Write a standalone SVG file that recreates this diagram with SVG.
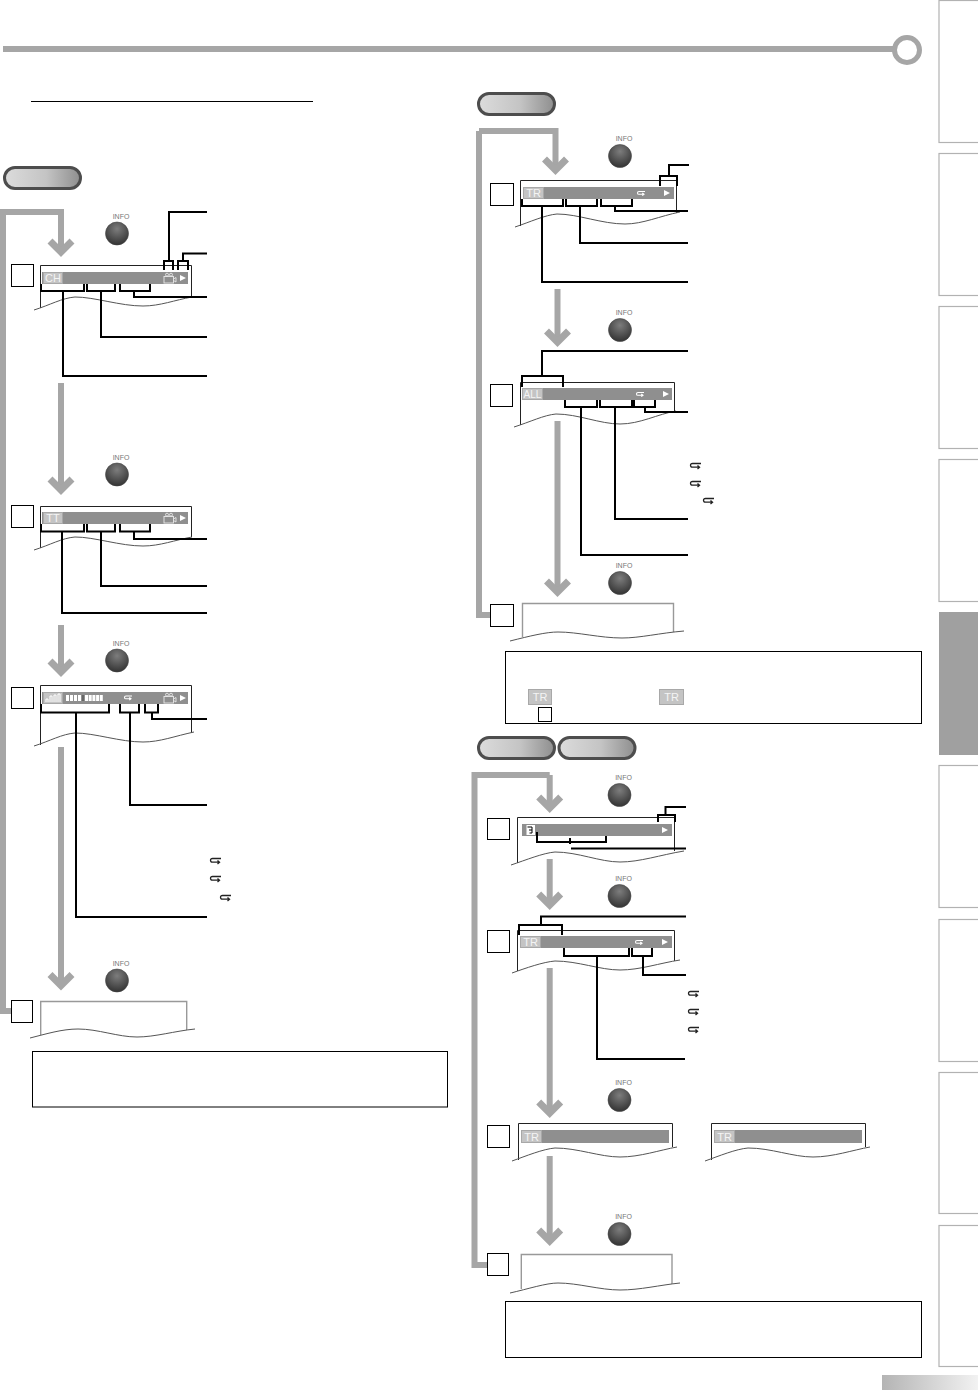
<svg xmlns="http://www.w3.org/2000/svg" width="978" height="1390" viewBox="0 0 978 1390">
<style>
.g{fill:none;stroke:#a6a6a6;stroke-width:6}
.h{fill:none;stroke:#a6a6a6;stroke-width:7}
.c{fill:none;stroke:#000;stroke-width:2}
.s{fill:none;stroke:#222;stroke-width:1}
.e{fill:none;stroke:#999;stroke-width:1.400}
.w{fill:none;stroke:#555;stroke-width:1}
.n{fill:#fff;stroke:#000;stroke-width:1}
.b{fill:#8f8f8f}
.t{fill:#fff;stroke:#b2b2b2;stroke-width:1.2}
.l{fill:#c4c4c4;stroke:#a8a8a8;stroke-width:1}
.lt{font-family:"Liberation Sans",Arial,sans-serif;font-size:11px;fill:#f4f4f4;text-anchor:middle}
.i{font-family:"Liberation Sans",Arial,sans-serif;font-size:7px;fill:#777;text-anchor:middle}
.p{stroke:#4d4d4d;stroke-width:3;fill:url(#pg)}
</style>
<defs>
<linearGradient id="pg" x1="0" x2="1" y1="0" y2="0"><stop offset="0" stop-color="#dcdcdc"/><stop offset=".55" stop-color="#c4c4c4"/><stop offset="1" stop-color="#8e8e8e"/></linearGradient>
<radialGradient id="bg" cx=".5" cy=".3" r=".75"><stop offset="0" stop-color="#7d7d7d"/><stop offset="1" stop-color="#2e2e2e"/></radialGradient>
<linearGradient id="cg" x1="0" x2="1" y1="0" y2="0"><stop offset="0" stop-color="#b4b4b4"/><stop offset="1" stop-color="#f2f2f2"/></linearGradient>
<g id="btn"><circle r="11.500" fill="url(#bg)" stroke="#444" stroke-width=".6"/><text class="i" x="4" y="-15">INFO</text></g>
<path id="chev" class="h" d="M-11 -16L0 -5L11 -16"/>
<path id="ret" d="M11 .5H2.500Q.5 .5 .5 2.300Q.5 4.200 2.500 4.200H9M7.500 2.600L9.500 4.200L7.500 5.900" fill="none" stroke="#222" stroke-width="1.300"/>
<path id="retw" d="M8 .5H2Q.5 .5 .5 1.900Q.5 3.300 2 3.300H6.500M5.300 2L7 3.300L5.300 4.600" fill="none" stroke="#fff" stroke-width="1.100"/>
<path id="play" d="M0 0L6 3L0 6Z" fill="#fff"/>
<g id="cam" fill="none" stroke="#e8e8e8" stroke-width=".9"><rect x="0" y="3.500" width="9.500" height="6.500"/><circle cx="3" cy="1.700" r="1.500"/><circle cx="7" cy="1.700" r="1.500"/><path d="M9.500 6L12 4.500V9L9.500 7.500"/></g>
</defs>
<rect width="978" height="1390" fill="#fff"/>
<g id="header"><path d="M3 49H895" stroke="#a6a6a6" stroke-width="6" fill="none"/><circle cx="907" cy="50" r="12.500" fill="#fff" stroke="#a6a6a6" stroke-width="5"/></g>
<g id="tabs">
<rect class="t" x="939" y="0.500" width="45" height="142"/>
<rect class="t" x="939" y="153.500" width="45" height="142"/>
<rect class="t" x="939" y="306.500" width="45" height="142"/>
<rect class="t" x="939" y="459.500" width="45" height="142"/>
<rect x="939" y="612" width="45" height="143" fill="#a0a0a0"/>
<rect class="t" x="939" y="765.500" width="45" height="142"/>
<rect class="t" x="939" y="919.500" width="45" height="142"/>
<rect class="t" x="939" y="1072.500" width="45" height="141"/>
<rect class="t" x="939" y="1225.500" width="45" height="141"/>
<rect x="882" y="1375" width="96" height="15" fill="url(#cg)"/>
</g>
<path id="heading-rule" d="M31 101.500H313" stroke="#000" stroke-width="1"/>
<g id="flows">
<path class="g" d="M0 212H61V251M3 212V1011H11"/><use href="#chev" x="61" y="257"/>
<path class="g" d="M61 383V489"/><use href="#chev" x="61" y="495"/>
<path class="g" d="M61 625V671"/><use href="#chev" x="61" y="677"/>
<path class="g" d="M61 747V984"/><use href="#chev" x="61" y="990.500"/>
<path class="g" d="M479 131H555.500V169M479 131V615H491"/><use href="#chev" x="555.500" y="175"/>
<path class="g" d="M557.500 289V341"/><use href="#chev" x="557.500" y="347"/>
<path class="g" d="M557.500 421V591"/><use href="#chev" x="557.500" y="597"/>
<path class="g" d="M549.700 775H474.500V1265H487M549.700 775V807"/><use href="#chev" x="549.700" y="813"/>
<path class="g" d="M549.700 859V904"/><use href="#chev" x="549.700" y="910"/>
<path class="g" d="M549.700 968V1112"/><use href="#chev" x="549.700" y="1118"/>
<path class="g" d="M549.700 1156V1240"/><use href="#chev" x="549.700" y="1246"/>
</g>
<g id="pills">
<rect class="p" x="4.500" y="167.500" width="76" height="21" rx="10.500"/>
<rect class="p" x="478.500" y="93.500" width="76" height="21" rx="10.500"/>
<rect class="p" x="478.500" y="737.500" width="76" height="21" rx="10.500"/>
<rect class="p" x="559" y="737.500" width="76" height="21" rx="10.500"/>
</g>
<g id="buttons">
<use href="#btn" x="117" y="233.500"/><use href="#btn" x="117" y="474.500"/><use href="#btn" x="117" y="660.500"/><use href="#btn" x="117" y="980.500"/>
<use href="#btn" x="620" y="156"/><use href="#btn" x="620" y="330"/><use href="#btn" x="620" y="583"/>
<use href="#btn" x="619.500" y="795"/><use href="#btn" x="619.500" y="896"/><use href="#btn" x="619.500" y="1100"/><use href="#btn" x="619.500" y="1234"/>
</g>
<g id="step-boxes">
<rect class="n" x="11.500" y="264.500" width="22" height="22"/>
<rect class="n" x="11.500" y="505.500" width="22" height="22"/>
<rect class="n" x="11.500" y="687.500" width="22" height="21"/>
<rect class="n" x="11.500" y="1000.500" width="21" height="22"/>
<rect class="n" x="490.500" y="183.500" width="23" height="22"/>
<rect class="n" x="490.500" y="384.500" width="22" height="22"/>
<rect class="n" x="490.500" y="604.500" width="23" height="22"/>
<rect class="n" x="487.500" y="818.500" width="22" height="21"/>
<rect class="n" x="487.500" y="930.500" width="22" height="22"/>
<rect class="n" x="487.500" y="1125.500" width="22" height="22"/>
<rect class="n" x="487.500" y="1253.500" width="21" height="22"/>
</g>
<g id="screen-1">
<path class="s" d="M40.500 308V265.500H191.500V297"/><path class="w" d="M34 310C50 305 62 298 75 297C95 297 120 306 143 306C160 306 175 300 192 297"/>
<rect class="b" x="42" y="272" width="146" height="12"/><rect class="l" x="43.500" y="272.500" width="19" height="11"/><text class="lt" x="53" y="282">CH</text>
<use href="#cam" x="164" y="273"/><use href="#play" x="180" y="275"/>
</g>
<g id="screen-2">
<path class="s" d="M40.500 548V506.500H191.500V537"/><path class="w" d="M34 550C50 545 62 538 75 537C95 537 120 546 143 546C160 546 175 540 192 537"/>
<rect class="b" x="42" y="512" width="146" height="12"/><rect class="l" x="43.500" y="512.500" width="19" height="11"/><text class="lt" x="53" y="522">TT</text>
<use href="#cam" x="164" y="513"/><use href="#play" x="180" y="515"/>
</g>
<g id="screen-3">
<path class="s" d="M40.500 745V685.500H191.500V733"/><path class="w" d="M34 746C50 741 62 734 75 733C95 733 120 742 143 742C160 742 175 736 194 732"/>
<rect class="b" x="42" y="692" width="146" height="12"/><rect class="l" x="43.500" y="692.500" width="19" height="11"/>
<path d="M46 702V699H48V702M50 702V696H52V702M54 702V695H56V702M58 702V694H60V702" fill="none" stroke="#fff" stroke-width="1"/>
<path d="M66 698H82" stroke="#fff" stroke-width="6" stroke-dasharray="3 1" fill="none"/><path d="M82 695h2v6h-2z" fill="#666"/><path d="M85 698H103" stroke="#fff" stroke-width="6" stroke-dasharray="3 .7" fill="none"/>
<use href="#retw" x="124" y="695.500"/>
<use href="#cam" x="164" y="693"/><use href="#play" x="180" y="695"/>
</g>
<g id="screen-4">
<path class="e" d="M40.700 1035V1001.500H186.700V1030"/><path class="w" d="M30 1038C46 1034 62 1029 78 1029C98 1029 118 1037 137 1037C155 1037 175 1031 195 1029"/>
</g>
<g id="screen-5">
<path class="s" d="M520.500 226V180.500H676.500V213"/><path class="w" d="M515 227C530 222 545 215 557 214C578 214 602 224 625 224C643 224 660 216 680 212"/>
<rect class="b" x="523" y="187" width="151" height="12"/><rect class="l" x="523.500" y="187.500" width="20" height="11"/><text class="lt" x="533.500" y="197">TR</text>
<use href="#retw" x="637" y="191"/><use href="#play" x="664" y="190"/>
</g>
<g id="screen-6">
<path class="s" d="M520.500 425V382.500H674.500V411"/><path class="w" d="M514 427C530 422 544 415 556 414C578 414 600 424 620 424C640 424 658 414 676 411"/>
<rect class="b" x="522" y="388" width="150" height="12"/><rect class="l" x="522.500" y="388.500" width="20" height="11"/><text class="lt" x="532.500" y="398" style="font-size:10px">ALL</text>
<use href="#retw" x="636" y="392"/><use href="#play" x="663" y="391"/>
</g>
<g id="screen-7">
<path class="e" d="M522.500 637V603.500H673.500V632"/><path class="w" d="M510 641C530 636 546 632 558 632C578 632 600 638 622 638C640 638 660 633 684 631"/>
</g>
<g id="screen-8">
<path class="s" d="M517.500 863V817.500H674.500V851"/><path class="w" d="M511 865C526 860 543 853 555 852C578 852 600 862 620 862C640 862 660 855 684 851"/>
<rect class="b" x="522" y="824" width="150" height="12"/><rect x="526.500" y="825" width="8.500" height="10" fill="#fff"/><path d="M527.500 827H532V833H529.500M529 830H532" stroke="#000" fill="none"/>
<use href="#play" x="662" y="827"/>
</g>
<g id="screen-9">
<path class="s" d="M517.500 971V930.500H674.500V961"/><path class="w" d="M512 973C526 968 543 962 555 961C578 961 600 970 620 970C640 970 660 963 680 960"/>
<rect class="b" x="520" y="936" width="152" height="12"/><rect class="l" x="520.500" y="936.500" width="20" height="11"/><text class="lt" x="530.500" y="946">TR</text>
<use href="#retw" x="635" y="940"/><use href="#play" x="662" y="939"/>
</g>
<g id="screen-10">
<path class="s" d="M518.500 1160V1123.500H672.500V1147"/><path class="w" d="M512 1161C526 1156 543 1149 555 1148C578 1148 600 1157 620 1157C640 1157 660 1150 677 1147"/>
<rect class="b" x="521" y="1130" width="148" height="13"/><rect class="l" x="521.500" y="1130.500" width="20" height="12"/><text class="lt" x="531.500" y="1141">TR</text>
</g>
<g id="screen-11">
<path class="s" d="M711.500 1160V1123.500H865.500V1147"/><path class="w" d="M705 1161C719 1156 736 1149 748 1148C771 1148 793 1157 813 1157C833 1157 853 1150 870 1147"/>
<rect class="b" x="714" y="1130" width="148" height="13"/><rect class="l" x="714.500" y="1130.500" width="20" height="12"/><text class="lt" x="724.500" y="1141">TR</text>
</g>
<g id="screen-12">
<path class="e" d="M521.300 1289V1254.500H672V1284"/><path class="w" d="M510 1293C528 1289 546 1283 558 1283C578 1283 600 1290 620 1290C640 1290 660 1285 680 1283"/>
</g>
<g id="connectors">
<path class="c" d="M164 270V261H173V270M178 270V261H188V270M169 261V212H207M183 261V253.500H207"/>
<path class="c" d="M41 284V291H84V284M87 284V291H115V284M120 284V291H150V284M134 291V297H207M101 291V337H207M63 291V376H207"/>
<path class="c" d="M41 524V531.500H84V524M87 524V531.500H115V524M120 524V531.500H150V524M134 532V539H207M101 532V586H207M62 532V613H207"/>
<path class="c" d="M41 704V712.500H109V704M120 704V712.500H139V704M145 704V712.500H158V704M152 713V719H207M130 713V805H207M76 713V917H207"/>
<path class="c" d="M660 186V176H677V186M669 176V165H689"/>
<path class="c" d="M522 199V206H563V199M566 199V206H597V199M601 199V206H632V199M615 206V211H688M580 206V243H688M542 206V282H688"/>
<path class="c" d="M522 387V376H563V387M542 376V351H688"/>
<path class="c" d="M565 400V407H597V400M600 400V407H632V400M634 400V407H655V400M645 407V412H688M615 407V519H688M581 407V555H688"/>
<path class="c" d="M658 822V815H675V822M665.500 815V807H686"/>
<path class="c" d="M537 832V842H606V836M570 838V844M571 848.500H686"/>
<path class="c" d="M519 935V925H562V935M541 925V916.500H686"/>
<path class="c" d="M564 948V956H629V948M632 948V956H652V948M643 956V975H686M597 956V1059H685"/>
</g>
<g id="return-icons">
<use href="#ret" x="210" y="858"/><use href="#ret" x="210" y="876"/><use href="#ret" x="220" y="895"/>
<use href="#ret" x="690" y="463"/><use href="#ret" x="690" y="481"/><use href="#ret" x="703" y="498"/>
<use href="#ret" x="688" y="991"/><use href="#ret" x="688" y="1009"/><use href="#ret" x="688" y="1027"/>
</g>
<g id="notes">
<rect x="32.500" y="1051.500" width="415" height="55.500" fill="none" stroke="#000"/>
<rect x="505.500" y="651.500" width="416" height="72" fill="none" stroke="#000"/>
<rect x="505.500" y="1301.500" width="416" height="56" fill="none" stroke="#000"/>
<rect class="l" x="528.500" y="689.500" width="23" height="15"/><text class="lt" x="540" y="701">TR</text>
<rect class="l" x="659.500" y="689.500" width="24" height="15"/><text class="lt" x="671.500" y="701">TR</text>
<rect class="n" x="538.500" y="707.500" width="13" height="14"/>
</g>
</svg>
